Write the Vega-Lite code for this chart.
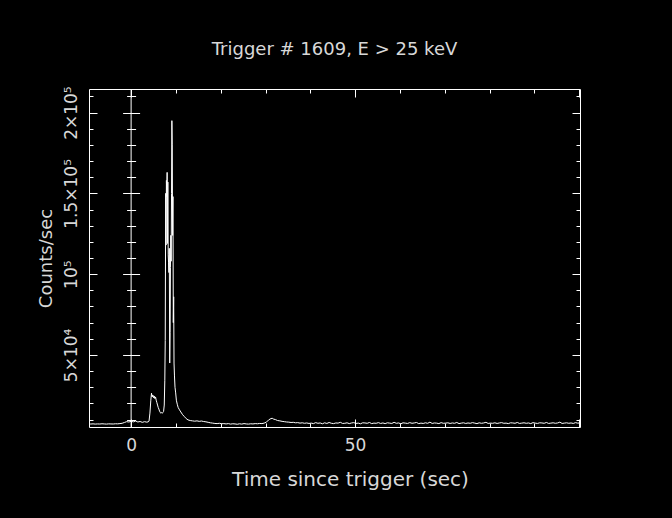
{
  "$schema": "https://vega.github.io/schema/vega-lite/v6.json",
  "width": 491,
  "height": 338,
  "autosize": {"type": "none"},
  "padding": {"left": 89, "top": 89, "right": 92, "bottom": 91},
  "background": "#000000",
  "config": {
    "view": {"stroke": "#ffffff", "strokeWidth": 1},
    "axis": {
      "domain": false,
      "labels": false,
      "grid": false,
      "ticks": true,
      "tickColor": "#ffffff",
      "tickWidth": 1,
      "labelFont": "DejaVu Sans",
      "titleFont": "DejaVu Sans",
      "labelColor": "#d8d8d8",
      "titleColor": "#d8d8d8",
      "titleFontWeight": "normal",
      "labelFlush": false,
      "labelOverlap": false
    }
  },
  "title": {
    "text": "Trigger # 1609, E > 25 keV",
    "font": "DejaVu Sans",
    "fontSize": 18,
    "fontWeight": "normal",
    "color": "#d8d8d8",
    "anchor": "middle",
    "baseline": "alphabetic",
    "offset": 13
  },
  "data": {
    "values": [
      {"t": -9.4, "c": 7300}, {"t": -9.0, "c": 7250}, {"t": -8.5, "c": 7350}, {"t": -8.0, "c": 7200},
      {"t": -7.5, "c": 7300}, {"t": -7.0, "c": 7250}, {"t": -6.5, "c": 7400}, {"t": -6.0, "c": 7300},
      {"t": -5.5, "c": 7200}, {"t": -5.0, "c": 7350}, {"t": -4.5, "c": 7300}, {"t": -4.0, "c": 7250},
      {"t": -3.5, "c": 7400}, {"t": -3.0, "c": 7350}, {"t": -2.5, "c": 7500}, {"t": -2.0, "c": 7700},
      {"t": -1.5, "c": 8200}, {"t": -1.0, "c": 8700}, {"t": -0.5, "c": 8500}, {"t": 0.0, "c": 8900},
      {"t": 0.5, "c": 8600}, {"t": 1.0, "c": 9100}, {"t": 1.5, "c": 8500}, {"t": 2.0, "c": 8800},
      {"t": 2.5, "c": 8300}, {"t": 3.0, "c": 8700}, {"t": 3.5, "c": 8400}, {"t": 3.8, "c": 8600},
      {"t": 4.0, "c": 9000}, {"t": 4.2, "c": 14000}, {"t": 4.4, "c": 22000}, {"t": 4.55, "c": 26300},
      {"t": 4.7, "c": 24000}, {"t": 4.85, "c": 25200}, {"t": 5.0, "c": 23500}, {"t": 5.15, "c": 24600},
      {"t": 5.3, "c": 23000}, {"t": 5.45, "c": 24000}, {"t": 5.6, "c": 22000}, {"t": 5.75, "c": 20500},
      {"t": 5.9, "c": 19000}, {"t": 6.05, "c": 17500}, {"t": 6.2, "c": 16500}, {"t": 6.35, "c": 15200},
      {"t": 6.5, "c": 14500}, {"t": 6.65, "c": 13900}, {"t": 6.8, "c": 14400}, {"t": 6.95, "c": 14000},
      {"t": 7.1, "c": 14300}, {"t": 7.25, "c": 15000}, {"t": 7.4, "c": 19000}, {"t": 7.52, "c": 34000},
      {"t": 7.62, "c": 59000}, {"t": 7.72, "c": 150000}, {"t": 7.8, "c": 118000}, {"t": 7.88, "c": 158000},
      {"t": 7.96, "c": 148000}, {"t": 8.04, "c": 163000}, {"t": 8.12, "c": 119000}, {"t": 8.2, "c": 157000},
      {"t": 8.28, "c": 112000}, {"t": 8.36, "c": 107000}, {"t": 8.44, "c": 101000}, {"t": 8.52, "c": 116000},
      {"t": 8.62, "c": 45000}, {"t": 8.7, "c": 64000}, {"t": 8.78, "c": 104000}, {"t": 8.86, "c": 124000},
      {"t": 8.94, "c": 108000}, {"t": 9.02, "c": 150000}, {"t": 9.1, "c": 195000}, {"t": 9.18, "c": 180000},
      {"t": 9.26, "c": 124000}, {"t": 9.34, "c": 148000}, {"t": 9.42, "c": 70000}, {"t": 9.5, "c": 86000},
      {"t": 9.58, "c": 45000}, {"t": 9.68, "c": 37000}, {"t": 9.8, "c": 30000}, {"t": 9.95, "c": 26500},
      {"t": 10.1, "c": 22000}, {"t": 10.3, "c": 19500}, {"t": 10.5, "c": 17500}, {"t": 10.8, "c": 16000},
      {"t": 11.1, "c": 14700}, {"t": 11.5, "c": 13000}, {"t": 11.9, "c": 11800}, {"t": 12.3, "c": 10600},
      {"t": 12.7, "c": 9800}, {"t": 13.2, "c": 9400}, {"t": 13.7, "c": 9200}, {"t": 14.2, "c": 9000},
      {"t": 14.7, "c": 9200}, {"t": 15.2, "c": 8900}, {"t": 15.7, "c": 9100}, {"t": 16.2, "c": 8800},
      {"t": 16.7, "c": 8600}, {"t": 17.2, "c": 8300}, {"t": 17.7, "c": 8000}, {"t": 18.2, "c": 7800},
      {"t": 18.7, "c": 7600}, {"t": 19.2, "c": 7500}, {"t": 19.7, "c": 7700}, {"t": 20.2, "c": 7400},
      {"t": 20.7, "c": 7500}, {"t": 21.2, "c": 7300}, {"t": 21.7, "c": 7500}, {"t": 22.2, "c": 7200},
      {"t": 22.7, "c": 7400}, {"t": 23.2, "c": 7300}, {"t": 23.7, "c": 7100}, {"t": 24.2, "c": 7400},
      {"t": 24.7, "c": 7200}, {"t": 25.2, "c": 7500}, {"t": 25.7, "c": 7300}, {"t": 26.2, "c": 7200},
      {"t": 26.7, "c": 7400}, {"t": 27.2, "c": 7300}, {"t": 27.7, "c": 7500}, {"t": 28.2, "c": 7400},
      {"t": 28.7, "c": 7600}, {"t": 29.2, "c": 7500}, {"t": 29.7, "c": 7800}, {"t": 30.2, "c": 8400},
      {"t": 30.7, "c": 9800}, {"t": 31.2, "c": 10600}, {"t": 31.5, "c": 10800}, {"t": 31.8, "c": 10300},
      {"t": 32.2, "c": 10000}, {"t": 32.7, "c": 9400}, {"t": 33.2, "c": 9200}, {"t": 33.7, "c": 8900},
      {"t": 34.2, "c": 8700}, {"t": 34.7, "c": 8500}, {"t": 35.2, "c": 8400}, {"t": 35.7, "c": 8200},
      {"t": 36.2, "c": 8300}, {"t": 36.7, "c": 8000}, {"t": 37.2, "c": 8100}, {"t": 37.7, "c": 7800},
      {"t": 38.2, "c": 8000}, {"t": 38.7, "c": 7700}, {"t": 39.2, "c": 7900}, {"t": 39.7, "c": 7600},
      {"t": 40.2, "c": 7800}, {"t": 40.7, "c": 7500}, {"t": 41.2, "c": 8100}, {"t": 41.7, "c": 7700},
      {"t": 42.2, "c": 7900}, {"t": 42.7, "c": 7400}, {"t": 43.2, "c": 8000}, {"t": 43.7, "c": 7600},
      {"t": 44.2, "c": 8200}, {"t": 44.7, "c": 7700}, {"t": 45.2, "c": 7500}, {"t": 45.7, "c": 7900},
      {"t": 46.2, "c": 7800}, {"t": 46.7, "c": 8300}, {"t": 47.2, "c": 7600}, {"t": 47.7, "c": 7700},
      {"t": 48.2, "c": 8000}, {"t": 48.7, "c": 7500}, {"t": 49.2, "c": 7900}, {"t": 49.7, "c": 8100},
      {"t": 50.2, "c": 7600}, {"t": 50.7, "c": 7800}, {"t": 51.2, "c": 7400}, {"t": 51.7, "c": 8000},
      {"t": 52.2, "c": 7900}, {"t": 52.7, "c": 7700}, {"t": 53.2, "c": 8200}, {"t": 53.7, "c": 7500},
      {"t": 54.2, "c": 7800}, {"t": 54.7, "c": 7700}, {"t": 55.2, "c": 8100}, {"t": 55.7, "c": 7600},
      {"t": 56.2, "c": 7900}, {"t": 56.7, "c": 7500}, {"t": 57.2, "c": 8000}, {"t": 57.7, "c": 7800},
      {"t": 58.2, "c": 7600}, {"t": 58.7, "c": 8300}, {"t": 59.2, "c": 7700}, {"t": 59.7, "c": 7900},
      {"t": 60.2, "c": 7400}, {"t": 60.7, "c": 8000}, {"t": 61.2, "c": 7800}, {"t": 61.7, "c": 7600},
      {"t": 62.2, "c": 8100}, {"t": 62.7, "c": 7700}, {"t": 63.2, "c": 7900}, {"t": 63.7, "c": 8200},
      {"t": 64.2, "c": 7500}, {"t": 64.7, "c": 7800}, {"t": 65.2, "c": 7600}, {"t": 65.7, "c": 8000},
      {"t": 66.2, "c": 7700}, {"t": 66.7, "c": 8400}, {"t": 67.2, "c": 7600}, {"t": 67.7, "c": 7900},
      {"t": 68.2, "c": 7800}, {"t": 68.7, "c": 7500}, {"t": 69.2, "c": 8100}, {"t": 69.7, "c": 7700},
      {"t": 70.2, "c": 7800}, {"t": 70.7, "c": 8000}, {"t": 71.2, "c": 7600}, {"t": 71.7, "c": 7900},
      {"t": 72.2, "c": 7700}, {"t": 72.7, "c": 8200}, {"t": 73.2, "c": 7500}, {"t": 73.7, "c": 7800},
      {"t": 74.2, "c": 8000}, {"t": 74.7, "c": 7600}, {"t": 75.2, "c": 7900}, {"t": 75.7, "c": 7700},
      {"t": 76.2, "c": 8100}, {"t": 76.7, "c": 7800}, {"t": 77.2, "c": 7500}, {"t": 77.7, "c": 8000},
      {"t": 78.2, "c": 7700}, {"t": 78.7, "c": 7900}, {"t": 79.2, "c": 8300}, {"t": 79.7, "c": 7600},
      {"t": 80.2, "c": 7800}, {"t": 80.7, "c": 7700}, {"t": 81.2, "c": 8000}, {"t": 81.7, "c": 7600},
      {"t": 82.2, "c": 7900}, {"t": 82.7, "c": 8100}, {"t": 83.2, "c": 7700}, {"t": 83.7, "c": 7800},
      {"t": 84.2, "c": 7500}, {"t": 84.7, "c": 8000}, {"t": 85.2, "c": 7900}, {"t": 85.7, "c": 7700},
      {"t": 86.2, "c": 8200}, {"t": 86.7, "c": 7600}, {"t": 87.2, "c": 7800}, {"t": 87.7, "c": 8000},
      {"t": 88.2, "c": 7700}, {"t": 88.7, "c": 7900}, {"t": 89.2, "c": 7500}, {"t": 89.7, "c": 8100},
      {"t": 90.2, "c": 7800}, {"t": 90.7, "c": 7600}, {"t": 91.2, "c": 8000}, {"t": 91.7, "c": 7900},
      {"t": 92.2, "c": 7700}, {"t": 92.7, "c": 8200}, {"t": 93.2, "c": 7600}, {"t": 93.7, "c": 7800},
      {"t": 94.2, "c": 8000}, {"t": 94.7, "c": 7700}, {"t": 95.2, "c": 7900}, {"t": 95.7, "c": 8400},
      {"t": 96.2, "c": 7600}, {"t": 96.7, "c": 7800}, {"t": 97.2, "c": 8000}, {"t": 97.7, "c": 7700},
      {"t": 98.2, "c": 7900}, {"t": 98.7, "c": 7600}, {"t": 99.2, "c": 8100}, {"t": 99.7, "c": 7800},
      {"t": 100.2, "c": 7900}
    ]
  },
  "resolve": {"axis": {"x": "independent", "y": "independent"}},
  "layer": [
    {
      "mark": {"type": "line", "color": "#ffffff", "strokeWidth": 1, "clip": true},
      "encoding": {
        "x": {
          "field": "t", "type": "quantitative",
          "scale": {"domain": [-9.4, 100.2], "nice": false, "zero": false},
          "axis": {
            "orient": "bottom", "values": [0, 50], "ticks": false, "labels": true,
            "labelFontSize": 17, "labelBaseline": "alphabetic", "labelAlign": "center", "labelPadding": 23,
            "title": "Time since trigger (sec)", "titleFontSize": 20,
            "titleX": 261, "titleY": 58, "titleAlign": "center", "titleBaseline": "alphabetic", "titleAnchor": null
          }
        },
        "y": {
          "field": "c", "type": "quantitative",
          "scale": {"domain": [5400, 214600], "nice": false, "zero": false},
          "axis": {
            "orient": "left", "values": [50000, 100000, 150000, 200000], "ticks": false, "labels": true,
            "labelExpr": "datum.value == 50000 ? '5×10⁴' : datum.value == 100000 ? '10⁵' : datum.value == 150000 ? '1.5×10⁵' : '2×10⁵'",
            "labelFontSize": 17, "labelAngle": 270, "labelAlign": "center", "labelBaseline": "alphabetic", "labelPadding": 13,
            "title": "Counts/sec", "titleFontSize": 18, "titleAngle": 270,
            "titleX": -38, "titleY": 169, "titleAlign": "center", "titleBaseline": "alphabetic"
          }
        }
      }
    },
    {
      "mark": {"type": "line", "opacity": 0},
      "encoding": {
        "x": {"field": "t", "type": "quantitative", "axis": {"orient": "bottom", "values": [0, 50, 100], "tickSize": -8, "title": null}},
        "y": {"field": "c", "type": "quantitative", "axis": {"orient": "left", "values": [50000, 100000, 150000, 200000], "tickSize": -8, "title": null}}
      }
    },
    {
      "mark": {"type": "line", "opacity": 0},
      "encoding": {
        "x": {"field": "t", "type": "quantitative", "axis": {"orient": "bottom", "values": [10, 20, 30, 40, 60, 70, 80, 90], "tickSize": -4, "title": null}},
        "y": {"field": "c", "type": "quantitative", "axis": {"orient": "left", "values": [10000, 20000, 30000, 40000, 60000, 70000, 80000, 90000, 110000, 120000, 130000, 140000, 160000, 170000, 180000, 190000, 210000], "tickSize": -4, "title": null}}
      }
    },
    {
      "mark": {"type": "line", "opacity": 0},
      "encoding": {
        "x": {"field": "t", "type": "quantitative", "axis": {"orient": "top", "values": [0, 50, 100], "tickSize": -8, "title": null}},
        "y": {"field": "c", "type": "quantitative", "axis": {"orient": "right", "values": [50000, 100000, 150000, 200000], "tickSize": -8, "title": null}}
      }
    },
    {
      "mark": {"type": "line", "opacity": 0},
      "encoding": {
        "x": {"field": "t", "type": "quantitative", "axis": {"orient": "top", "values": [10, 20, 30, 40, 60, 70, 80, 90], "tickSize": -4, "title": null}},
        "y": {"field": "c", "type": "quantitative", "axis": {"orient": "right", "values": [10000, 20000, 30000, 40000, 60000, 70000, 80000, 90000, 110000, 120000, 130000, 140000, 160000, 170000, 180000, 190000, 210000], "tickSize": -4, "title": null}}
      }
    },
    {
      "mark": {"type": "line", "opacity": 0},
      "encoding": {
        "x": {"field": "t", "type": "quantitative", "axis": null},
        "y": {"field": "c", "type": "quantitative", "axis": {"orient": "left", "offset": -50.6, "values": [50000, 100000, 150000, 200000], "tickSize": 17, "title": null}}
      }
    },
    {
      "mark": {"type": "line", "opacity": 0},
      "encoding": {
        "x": {"field": "t", "type": "quantitative", "axis": null},
        "y": {"field": "c", "type": "quantitative", "axis": {"orient": "left", "offset": -46.6, "values": [10000, 20000, 30000, 40000, 60000, 70000, 80000, 90000, 110000, 120000, 130000, 140000, 160000, 170000, 180000, 190000, 210000], "tickSize": 9, "title": null}}
      }
    },
    {
      "data": {"values": [{"t": 0}]},
      "mark": {"type": "rule", "color": "#ffffff", "strokeWidth": 1},
      "encoding": {
        "x": {"field": "t", "type": "quantitative", "axis": null}
      }
    }
  ]
}
